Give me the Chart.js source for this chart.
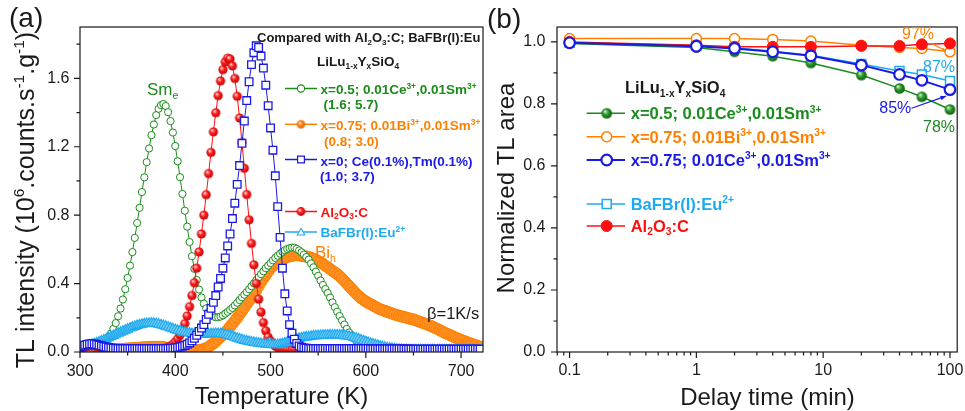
<!DOCTYPE html>
<html>
<head>
<meta charset="utf-8">
<script src="https://cdn.jsdelivr.net/npm/chart.js@4.4.0/dist/chart.umd.min.js"></script>
<style>
    html, body { margin: 0; padding: 0; background: #fff; }
    #wrap { position: relative; width: 965px; height: 411px; overflow: hidden; }
    canvas { position: absolute; top: 0; }
    #chartA { left: 0; }
    #chartB { left: 480px; }
</style>
</head>
<body>
<div id="wrap">
    <canvas id="chartA" width="500" height="411"></canvas>
    <canvas id="chartB" width="485" height="411"></canvas>
</div>
<script>
// ---------- (a) TL glow curves ----------
const tempK = [
    300, 302.5, 305, 307.5, 310, 312.5, 315, 317.5, 320, 322.5,
    325, 327.5, 330, 332.5, 335, 337.5, 340, 342.5, 345, 347.5,
    350, 352.5, 355, 357.5, 360, 362.5, 365, 367.5, 370, 372.5,
    375, 377.5, 380, 382.5, 385, 387.5, 390, 392.5, 395, 397.5,
    400, 402.5, 405, 407.5, 410, 412.5, 415, 417.5, 420, 422.5,
    425, 427.5, 430, 432.5, 435, 437.5, 440, 442.5, 445, 447.5,
    450, 452.5, 455, 457.5, 460, 462.5, 465, 467.5, 470, 472.5,
    475, 477.5, 480, 482.5, 485, 487.5, 490, 492.5, 495, 497.5,
    500, 502.5, 505, 507.5, 510, 512.5, 515, 517.5, 520, 522.5,
    525, 527.5, 530, 532.5, 535, 537.5, 540, 542.5, 545, 547.5,
    550, 552.5, 555, 557.5, 560, 562.5, 565, 567.5, 570, 572.5,
    575, 577.5, 580, 582.5, 585, 587.5, 590, 592.5, 595, 597.5,
    600, 602.5, 605, 607.5, 610, 612.5, 615, 617.5, 620, 622.5,
    625, 627.5, 630, 632.5, 635, 637.5, 640, 642.5, 645, 647.5,
    650, 652.5, 655, 657.5, 660, 662.5, 665, 667.5, 670, 672.5,
    675, 677.5, 680, 682.5, 685, 687.5, 690, 692.5, 695, 697.5,
    700, 702.5, 705, 707.5, 710, 712.5, 715, 717.5, 720
];

// x=0.5; 0.01Ce,0.01Sm
const tlGreen = [
    0.015, 0.015, 0.015, 0.016, 0.018, 0.020, 0.022, 0.025, 0.030, 0.039,
    0.050, 0.066, 0.085, 0.108, 0.136, 0.169, 0.209, 0.254, 0.307, 0.367,
    0.433, 0.505, 0.584, 0.667, 0.754, 0.843, 0.935, 1.021, 1.110, 1.190,
    1.268, 1.330, 1.385, 1.422, 1.443, 1.450, 1.438, 1.402, 1.350, 1.283,
    1.204, 1.115, 1.022, 0.924, 0.826, 0.733, 0.643, 0.560, 0.486, 0.421,
    0.365, 0.319, 0.283, 0.255, 0.234, 0.219, 0.208, 0.203, 0.203, 0.207,
    0.214, 0.224, 0.235, 0.246, 0.258, 0.272, 0.288, 0.304, 0.320, 0.335,
    0.350, 0.367, 0.385, 0.402, 0.420, 0.437, 0.455, 0.472, 0.490, 0.505,
    0.520, 0.536, 0.550, 0.563, 0.575, 0.586, 0.595, 0.602, 0.607, 0.610,
    0.610, 0.603, 0.594, 0.583, 0.570, 0.555, 0.540, 0.518, 0.495, 0.470,
    0.445, 0.418, 0.392, 0.368, 0.345, 0.318, 0.290, 0.262, 0.235, 0.210,
    0.185, 0.160, 0.135, 0.114, 0.095, 0.079, 0.065, 0.054, 0.045, 0.037,
    0.030, 0.026, 0.022, 0.020, 0.018, 0.016, 0.015, 0.013, 0.012, 0.011,
    0.010, 0.010, 0.010, 0.010, 0.010, 0.010, 0.010, 0.010, 0.010, 0.010,
    0.010, 0.010, 0.010, 0.010, 0.010, 0.010, 0.010, 0.010, 0.010, 0.010,
    0.010, 0.010, 0.010, 0.010, 0.010, 0.010, 0.010, 0.010, 0.010, 0.010,
    0.010, 0.010, 0.010, 0.010, 0.010, 0.010, 0.010, 0.010, 0.010
];

// x=0.75; 0.01Bi,0.01Sm
const tlOrange = [
    0.015, 0.015, 0.015, 0.015, 0.015, 0.015, 0.015, 0.015, 0.015, 0.015,
    0.015, 0.015, 0.015, 0.015, 0.015, 0.016, 0.017, 0.017, 0.018, 0.019,
    0.020, 0.021, 0.022, 0.023, 0.024, 0.025, 0.026, 0.027, 0.028, 0.029,
    0.030, 0.030, 0.030, 0.030, 0.030, 0.028, 0.025, 0.022, 0.020, 0.017,
    0.015, 0.013, 0.012, 0.011, 0.010, 0.010, 0.010, 0.010, 0.010, 0.010,
    0.011, 0.013, 0.017, 0.023, 0.030, 0.040, 0.050, 0.062, 0.075, 0.088,
    0.100, 0.115, 0.130, 0.148, 0.165, 0.183, 0.200, 0.220, 0.240, 0.260,
    0.280, 0.300, 0.320, 0.340, 0.360, 0.385, 0.410, 0.430, 0.450, 0.470,
    0.490, 0.503, 0.515, 0.526, 0.535, 0.543, 0.550, 0.555, 0.560, 0.563,
    0.565, 0.566, 0.565, 0.563, 0.560, 0.558, 0.555, 0.550, 0.545, 0.539,
    0.532, 0.524, 0.515, 0.505, 0.495, 0.485, 0.475, 0.465, 0.455, 0.443,
    0.430, 0.415, 0.400, 0.385, 0.370, 0.355, 0.340, 0.327, 0.315, 0.305,
    0.295, 0.287, 0.280, 0.272, 0.265, 0.257, 0.250, 0.245, 0.240, 0.235,
    0.230, 0.225, 0.220, 0.216, 0.212, 0.208, 0.205, 0.201, 0.197, 0.193,
    0.190, 0.185, 0.180, 0.175, 0.170, 0.165, 0.160, 0.154, 0.148, 0.141,
    0.135, 0.128, 0.120, 0.113, 0.107, 0.101, 0.095, 0.088, 0.082, 0.076,
    0.070, 0.065, 0.060, 0.055, 0.050, 0.045, 0.040, 0.035, 0.030
];

// x=0; Ce(0.1%),Tm(0.1%)
const tlBlue = [
    0.030, 0.035, 0.040, 0.044, 0.047, 0.048, 0.047, 0.044, 0.040, 0.036,
    0.032, 0.029, 0.026, 0.024, 0.022, 0.021, 0.020, 0.020, 0.020, 0.020,
    0.020, 0.020, 0.020, 0.020, 0.020, 0.020, 0.020, 0.020, 0.020, 0.020,
    0.020, 0.020, 0.020, 0.020, 0.020, 0.020, 0.020, 0.020, 0.021, 0.022,
    0.024, 0.026, 0.029, 0.033, 0.038, 0.045, 0.053, 0.065, 0.080, 0.098,
    0.120, 0.140, 0.160, 0.190, 0.220, 0.255, 0.290, 0.330, 0.380, 0.430,
    0.490, 0.550, 0.620, 0.690, 0.780, 0.870, 0.980, 1.090, 1.220, 1.350,
    1.470, 1.580, 1.680, 1.750, 1.790, 1.780, 1.730, 1.660, 1.560, 1.440,
    1.310, 1.180, 1.030, 0.850, 0.670, 0.490, 0.340, 0.240, 0.160, 0.110,
    0.075, 0.050, 0.035, 0.028, 0.024, 0.022, 0.020, 0.020, 0.020, 0.020,
    0.020, 0.020, 0.020, 0.020, 0.020, 0.020, 0.020, 0.020, 0.020, 0.020,
    0.020, 0.020, 0.020, 0.020, 0.020, 0.020, 0.020, 0.020, 0.020, 0.020,
    0.020, 0.019, 0.018, 0.018, 0.018, 0.018, 0.018, 0.018, 0.018, 0.018,
    0.018, 0.018, 0.018, 0.018, 0.018, 0.018, 0.017, 0.017, 0.017, 0.016,
    0.016, 0.016, 0.016, 0.016, 0.016, 0.016, 0.016, 0.016, 0.016, 0.016,
    0.016, 0.016, 0.016, 0.016, 0.016, 0.016, 0.016, 0.016, 0.016, 0.016,
    0.016, 0.016, 0.016, 0.016, 0.016, 0.016, 0.016, 0.016, 0.016
];

// Al2O3:C
const tlRed = [
    0.020, 0.025, 0.030, 0.033, 0.035, 0.036, 0.035, 0.033, 0.030, 0.025,
    0.020, 0.017, 0.015, 0.013, 0.012, 0.011, 0.010, 0.010, 0.010, 0.010,
    0.010, 0.010, 0.010, 0.010, 0.010, 0.010, 0.010, 0.010, 0.010, 0.010,
    0.011, 0.011, 0.012, 0.014, 0.016, 0.018, 0.022, 0.028, 0.035, 0.045,
    0.059, 0.077, 0.100, 0.130, 0.166, 0.211, 0.265, 0.330, 0.405, 0.490,
    0.585, 0.690, 0.800, 0.920, 1.043, 1.167, 1.287, 1.399, 1.499, 1.585,
    1.651, 1.696, 1.718, 1.713, 1.673, 1.599, 1.495, 1.368, 1.225, 1.074,
    0.921, 0.773, 0.635, 0.510, 0.401, 0.309, 0.233, 0.172, 0.124, 0.087,
    0.065, 0.048, 0.035, 0.026, 0.020, 0.017, 0.015, 0.014, 0.013, 0.013,
    0.012, 0.012, 0.012, 0.012, 0.012, 0.011, 0.011, 0.011, 0.011, 0.011,
    0.010, 0.010, 0.010, 0.010, 0.010, 0.010, 0.010, 0.010, 0.010, 0.010,
    0.010, 0.010, 0.010, 0.010, 0.010, 0.010, 0.010, 0.010, 0.010, 0.010,
    0.010, 0.010, 0.010, 0.010, 0.010, 0.010, 0.010, 0.010, 0.010, 0.010,
    0.010, 0.010, 0.010, 0.010, 0.010, 0.010, 0.010, 0.010, 0.010, 0.010,
    0.010, 0.010, 0.010, 0.010, 0.010, 0.010, 0.010, 0.010, 0.010, 0.010,
    0.010, 0.010, 0.010, 0.010, 0.010, 0.010, 0.010, 0.010, 0.010, 0.010,
    0.010, 0.010, 0.010, 0.010, 0.010, 0.010, 0.010, 0.010, 0.010
];

// BaFBr(I):Eu2+
const tlSky = [
    0.030, 0.032, 0.035, 0.037, 0.040, 0.044, 0.048, 0.053, 0.058, 0.064,
    0.070, 0.076, 0.083, 0.090, 0.096, 0.103, 0.109, 0.115, 0.121, 0.127,
    0.133, 0.139, 0.144, 0.149, 0.154, 0.158, 0.161, 0.164, 0.166, 0.167,
    0.168, 0.167, 0.165, 0.162, 0.158, 0.154, 0.150, 0.145, 0.140, 0.135,
    0.130, 0.126, 0.122, 0.118, 0.115, 0.112, 0.110, 0.107, 0.105, 0.103,
    0.102, 0.102, 0.103, 0.104, 0.105, 0.106, 0.107, 0.108, 0.108, 0.107,
    0.105, 0.102, 0.099, 0.095, 0.090, 0.085, 0.080, 0.075, 0.071, 0.067,
    0.064, 0.061, 0.058, 0.055, 0.053, 0.051, 0.049, 0.047, 0.045, 0.044,
    0.043, 0.042, 0.042, 0.043, 0.045, 0.048, 0.052, 0.057, 0.062, 0.067,
    0.071, 0.075, 0.079, 0.082, 0.085, 0.087, 0.089, 0.091, 0.093, 0.094,
    0.095, 0.096, 0.097, 0.098, 0.098, 0.099, 0.099, 0.099, 0.099, 0.098,
    0.097, 0.095, 0.093, 0.091, 0.088, 0.084, 0.080, 0.075, 0.070, 0.065,
    0.060, 0.055, 0.050, 0.046, 0.042, 0.038, 0.034, 0.030, 0.027, 0.024,
    0.022, 0.020, 0.018, 0.016, 0.015, 0.014, 0.013, 0.013, 0.012, 0.012,
    0.012, 0.012, 0.012, 0.012, 0.012, 0.012, 0.012, 0.012, 0.012, 0.012,
    0.012, 0.012, 0.012, 0.012, 0.012, 0.012, 0.012, 0.012, 0.012, 0.012,
    0.012, 0.012, 0.012, 0.012, 0.012, 0.012, 0.012, 0.012, 0.012
];

const xTicksA = [300, 400, 500, 600, 700];
const xMinorA = [350, 450, 550, 650];
const yTicksA = [0, 0.4, 0.8, 1.2, 1.6];
const yMinorA = [0.2, 0.6, 1.0, 1.4, 1.8];

// ---------- (b) fading of the TL area ----------
const delayMin = [0.1, 1, 2, 4, 8, 20, 40, 60, 100];
const fadeGreen = [0.995, 0.982, 0.968, 0.954, 0.932, 0.893, 0.850, 0.823, 0.782];
const fadeOrange = [1.011, 1.011, 1.011, 1.008, 1.003, 0.989, 0.982, 0.979, 0.968];
const fadeBlue = [0.997, 0.986, 0.979, 0.968, 0.955, 0.925, 0.895, 0.876, 0.846];
const fadeSky = [0.997, 0.988, 0.981, 0.970, 0.957, 0.929, 0.906, 0.895, 0.874];
const fadeRed = [1.000, 0.989, 0.984, 0.984, 0.984, 0.987, 0.987, 0.992, 0.995];

const xTicksB = [0.1, 1, 10, 100];
const xMinorB = [0.08, 0.09, 0.2, 0.3, 0.4, 0.5, 0.6, 0.7, 0.8, 0.9,
    2, 3, 4, 5, 6, 7, 8, 9, 20, 30, 40, 50, 60, 70, 80, 90];
const yTicksB = [0, 0.2, 0.4, 0.6, 0.8, 1.0];
const yMinorB = [0.1, 0.3, 0.5, 0.7, 0.9];

// ---------- styling ----------
const FONT = 'Arial, "Liberation Sans", Helvetica, sans-serif';
const INK = '#1a1a1a';
const GREEN = '#1b8c1b';
const ORANGE = '#ff8000';
const BLUE = '#1a1ae6';
const RED = '#ff1010';
const SKY = '#1eaaf0';

[tlGreen, tlOrange, tlBlue, tlRed, tlSky].forEach(function(arr, i) {
    if (arr.length !== tempK.length) console.error('series ' + i + ' has ' + arr.length + ' values');
});

// small shaded ball used as a point style
function makeSphere(r, light, base, dark) {
    const c = document.createElement('canvas');
    const s = Math.ceil(r * 2 + 2);
    c.width = s;
    c.height = s;
    const g = c.getContext('2d');
    const cx = s / 2, cy = s / 2;
    const grad = g.createRadialGradient(cx - r * 0.35, cy - r * 0.4, r * 0.05, cx, cy, r * 1.05);
    grad.addColorStop(0, light);
    grad.addColorStop(0.45, base);
    grad.addColorStop(1, dark);
    g.fillStyle = grad;
    g.beginPath();
    g.arc(cx, cy, r, 0, Math.PI * 2);
    g.fill();
    return c;
}

const ballRed = makeSphere(4.6, '#ffe4e4', '#ff2020', '#c00000');
const ballRedKey = makeSphere(4.4, '#ffe4e4', '#ff2020', '#c00000');
const ballOrangeKey = makeSphere(4.2, '#ffe4c0', '#ff8a10', '#d06000');
const ballGreen = makeSphere(5.3, '#d8f5d8', '#2c9c2c', '#0b5a0b');

// text with ^{sup} and _{sub} parts
function parseRich(str) {
    const parts = [];
    const re = /([\^_])\{([^}]*)\}/g;
    let last = 0, m;
    while ((m = re.exec(str))) {
        if (m.index > last) parts.push({ t: str.slice(last, m.index), k: '' });
        parts.push({ t: m[2], k: m[1] });
        last = re.lastIndex;
    }
    if (last < str.length) parts.push({ t: str.slice(last), k: '' });
    return parts;
}

function richText(ctx, str, x, y, o) {
    const size = o.size;
    const weight = o.bold ? 'bold ' : '';
    const small = size * 0.62;
    const parts = parseRich(str);
    let total = 0;
    parts.forEach(function(p) {
        ctx.font = weight + (p.k ? small : size) + 'px ' + FONT;
        p.w = ctx.measureText(p.t).width;
        total += p.w;
    });
    let cx = o.align === 'center' ? x - total / 2 : x;
    ctx.fillStyle = o.color || INK;
    ctx.textAlign = 'left';
    ctx.textBaseline = 'alphabetic';
    parts.forEach(function(p) {
        ctx.font = weight + (p.k ? small : size) + 'px ' + FONT;
        const dy = p.k === '^' ? -size * 0.4 : (p.k === '_' ? size * 0.22 : 0);
        ctx.fillText(p.t, cx, y + dy);
        cx += p.w;
    });
    return total;
}

function keyMarker(ctx, type, x, y, r, color, fill, lw) {
    ctx.save();
    if (type === 'image') {
        ctx.drawImage(r, x - r.width / 2, y - r.height / 2);
        ctx.restore();
        return;
    }
    ctx.lineWidth = lw;
    ctx.strokeStyle = color;
    ctx.fillStyle = fill;
    ctx.beginPath();
    if (type === 'circle') {
        ctx.arc(x, y, r, 0, Math.PI * 2);
    } else if (type === 'rect') {
        ctx.rect(x - r, y - r, 2 * r, 2 * r);
    } else if (type === 'triangle') {
        ctx.moveTo(x, y - r);
        ctx.lineTo(x + r * 0.9, y + r * 0.6);
        ctx.lineTo(x - r * 0.9, y + r * 0.6);
        ctx.closePath();
    }
    ctx.fill();
    ctx.stroke();
    ctx.restore();
}

function keyLine(ctx, x0, x1, y, color, lw) {
    ctx.save();
    ctx.strokeStyle = color;
    ctx.lineWidth = lw;
    ctx.beginPath();
    ctx.moveTo(x0, y);
    ctx.lineTo(x1, y);
    ctx.stroke();
    ctx.restore();
}

// box round the plot and outward ticks
function drawFrame(chart, xs, xm, ys, ym) {
    const ctx = chart.ctx, a = chart.chartArea;
    const sx = chart.scales.x, sy = chart.scales.y;
    ctx.save();
    ctx.strokeStyle = INK;
    ctx.lineWidth = 1.2;
    ctx.beginPath();
    xs.forEach(function(v) {
        const p = sx.getPixelForValue(v);
        ctx.moveTo(p, a.bottom); ctx.lineTo(p, a.bottom + 6);
    });
    xm.forEach(function(v) {
        const p = sx.getPixelForValue(v);
        ctx.moveTo(p, a.bottom); ctx.lineTo(p, a.bottom + 3.5);
    });
    ys.forEach(function(v) {
        const p = sy.getPixelForValue(v);
        ctx.moveTo(a.left, p); ctx.lineTo(a.left - 6, p);
    });
    ym.forEach(function(v) {
        const p = sy.getPixelForValue(v);
        ctx.moveTo(a.left, p); ctx.lineTo(a.left - 3.5, p);
    });
    ctx.stroke();
    ctx.strokeRect(a.left, a.top, a.right - a.left, a.bottom - a.top);
    ctx.restore();
}

function arrow(ctx, x0, y0, x1, y1, color, head) {
    const ang = Math.atan2(y1 - y0, x1 - x0);
    ctx.save();
    ctx.strokeStyle = color;
    ctx.fillStyle = color;
    ctx.lineWidth = 1.2;
    ctx.beginPath();
    ctx.moveTo(x0, y0);
    ctx.lineTo(x1, y1);
    ctx.stroke();
    if (head) {
        ctx.beginPath();
        ctx.moveTo(x1, y1);
        ctx.lineTo(x1 - head * Math.cos(ang - 0.4), y1 - head * Math.sin(ang - 0.4));
        ctx.lineTo(x1 - head * Math.cos(ang + 0.4), y1 - head * Math.sin(ang + 0.4));
        ctx.closePath();
        ctx.fill();
    }
    ctx.restore();
}

const tickFont = { family: FONT, size: 16 };

// ---------- panel (a) ----------
function curve(vals) {
    return tempK.map(function(t, i) { return { x: t, y: vals[i] }; });
}

const panelA = {
    id: 'panelA',
    afterDraw(chart) {
        const ctx = chart.ctx, a = chart.chartArea;
        drawFrame(chart, xTicksA, xMinorA, yTicksA, yMinorA);

        richText(ctx, 'Temperature (K)', (a.left + a.right) / 2, 403.5, { size: 24, align: 'center' });
        ctx.save();
        ctx.translate(33.5, 200);
        ctx.rotate(-Math.PI / 2);
        richText(ctx, 'TL intensity (10^{6}.counts.s^{-1}.g^{-1})', 0, 0, { size: 25, align: 'center' });
        ctx.restore();
        richText(ctx, '(a)', 9, 27, { size: 28 });

        // legend block
        richText(ctx, 'Compared with Al_{2}O_{3}:C; BaFBr(I):Eu', 257, 41.7, { size: 13, bold: true });
        richText(ctx, 'LiLu_{1-x}Y_{x}SiO_{4}', 317, 66, { size: 13.5, bold: true });
        const kx0 = 285, kx1 = 317, km = 301, tx = 320.5;
        keyLine(ctx, kx0, kx1, 88.5, GREEN, 1.5);
        keyMarker(ctx, 'circle', km, 88.5, 3.6, GREEN, '#fff', 1.1);
        richText(ctx, 'x=0.5; 0.01Ce^{3+},0.01Sm^{3+}', tx, 94, { size: 13.5, bold: true, color: GREEN });
        richText(ctx, '(1.6; 5.7)', 323.5, 109, { size: 13.5, bold: true, color: GREEN });

        keyLine(ctx, kx0, kx1, 124.3, ORANGE, 1.5);
        keyMarker(ctx, 'image', km, 124.3, ballOrangeKey);
        richText(ctx, 'x=0.75; 0.01Bi^{3+},0.01Sm^{3+}', tx, 130, { size: 13.5, bold: true, color: ORANGE });
        richText(ctx, '(0.8; 3.0)', 324, 145.5, { size: 13.5, bold: true, color: ORANGE });

        keyLine(ctx, kx0, kx1, 159.5, BLUE, 1.5);
        keyMarker(ctx, 'rect', km, 159.5, 3.4, BLUE, '#fff', 1.2);
        richText(ctx, 'x=0; Ce(0.1%),Tm(0.1%)', tx, 165.5, { size: 13.5, bold: true, color: BLUE });
        richText(ctx, '(1.0; 3.7)', 320, 180.5, { size: 13.5, bold: true, color: BLUE });

        keyLine(ctx, kx0, kx1, 211.5, RED, 1.5);
        keyMarker(ctx, 'image', km, 211.5, ballRedKey);
        richText(ctx, 'Al_{2}O_{3}:C', tx, 216.5, { size: 13.5, bold: true, color: RED });

        keyLine(ctx, kx0, kx1, 232, SKY, 1.5);
        keyMarker(ctx, 'triangle', km, 232.5, 4.2, SKY, '#fff', 1.1);
        richText(ctx, 'BaFBr(I):Eu^{2+}', tx, 237, { size: 13.5, bold: true, color: SKY });

        // peak labels
        richText(ctx, 'Sm_{e}', 147, 95, { size: 17, color: GREEN });
        richText(ctx, 'Bi_{h}', 315, 258, { size: 17, color: ORANGE });
        richText(ctx, '\u03b2=1K/s', 427, 319, { size: 16.5 });
    }
};

new Chart(document.getElementById('chartA'), {
    type: 'line',
    data: {
        datasets: [{
            label: 'x=0; Ce(0.1%),Tm(0.1%)',
            data: curve(tlBlue),
            borderColor: BLUE,
            borderWidth: 1,
            pointStyle: 'rect',
            pointRadius: 5.4,
            pointBorderWidth: 1.3,
            pointBorderColor: BLUE,
            pointBackgroundColor: '#fff',
            order: 0
        }, {
            label: 'BaFBr(I):Eu2+',
            data: curve(tlSky),
            borderColor: SKY,
            borderWidth: 1,
            pointStyle: 'triangle',
            pointRadius: 5.6,
            pointBorderWidth: 1.2,
            pointBorderColor: SKY,
            pointBackgroundColor: '#7ccdf5',
            order: 1
        }, {
            label: 'Al2O3:C',
            data: curve(tlRed),
            borderColor: RED,
            borderWidth: 1,
            pointStyle: ballRed,
            pointRadius: 4.6,
            order: 2
        }, {
            label: 'x=0.5; 0.01Ce3+,0.01Sm3+',
            data: curve(tlGreen),
            borderColor: GREEN,
            borderWidth: 1,
            pointStyle: 'circle',
            pointRadius: 3.6,
            pointBorderWidth: 1,
            pointBorderColor: GREEN,
            pointBackgroundColor: '#fff',
            order: 3
        }, {
            label: 'x=0.75; 0.01Bi3+,0.01Sm3+',
            data: curve(tlOrange),
            borderColor: ORANGE,
            borderWidth: 1,
            pointStyle: 'circle',
            pointRadius: 5.6,
            pointBorderWidth: 1,
            pointBorderColor: ORANGE,
            pointBackgroundColor: '#ff9025',
            order: 4
        }]
    },
    options: {
        responsive: false,
        animation: false,
        events: [],
        layout: { padding: { left: 0, right: 17, top: 27, bottom: 0 } },
        plugins: { legend: { display: false }, tooltip: { enabled: false } },
        scales: {
            x: {
                type: 'linear',
                min: 300,
                max: 723,
                grid: { display: false, drawTicks: false },
                border: { display: false },
                afterBuildTicks: function(s) { s.ticks = xTicksA.map(function(v) { return { value: v }; }); },
                afterFit: function(s) { s.height = 59; s.paddingLeft = 0; s.paddingRight = 0; },
                ticks: { padding: 9.5, font: tickFont, color: INK, maxRotation: 0, autoSkip: false,
                    callback: function(v) { return String(v); } }
            },
            y: {
                type: 'linear',
                min: 0,
                max: 1.9,
                grid: { display: false, drawTicks: false },
                border: { display: false },
                afterBuildTicks: function(s) { s.ticks = yTicksA.map(function(v) { return { value: v }; }); },
                afterFit: function(s) { s.width = 80; s.paddingTop = 0; s.paddingBottom = 0; },
                ticks: { padding: 10.5, font: tickFont, color: INK, autoSkip: false,
                    callback: function(v) { return v.toFixed(1); } }
            }
        }
    },
    plugins: [panelA]
});

// ---------- panel (b) ----------
function fade(vals) {
    return delayMin.map(function(t, i) { return { x: t, y: vals[i] }; });
}

const panelB = {
    id: 'panelB',
    afterDraw(chart) {
        const ctx = chart.ctx;
        const sx = chart.scales.x, sy = chart.scales.y;
        drawFrame(chart, xTicksB, xMinorB, yTicksB, yMinorB);

        richText(ctx, 'Delay time (min)', 287.5, 405, { size: 24, align: 'center' });
        ctx.save();
        ctx.translate(34, 188);
        ctx.rotate(-Math.PI / 2);
        richText(ctx, 'Normalized TL area', 0, 0, { size: 24, align: 'center' });
        ctx.restore();
        richText(ctx, '(b)', 7, 27.5, { size: 28 });

        // legend block
        richText(ctx, 'LiLu_{1-x}Y_{x}SiO_{4}', 145, 93.3, { size: 16.5, bold: true });
        const kx0 = 106.7, kx1 = 145, km = 126.7, tx = 150.7;
        keyLine(ctx, kx0, kx1, 113.3, GREEN, 1.5);
        keyMarker(ctx, 'image', km, 113.3, ballGreen);
        richText(ctx, 'x=0.5; 0.01Ce^{3+},0.01Sm^{3+}', tx, 119.3, { size: 16.5, bold: true, color: GREEN });

        keyLine(ctx, kx0, kx1, 136.7, ORANGE, 1.5);
        keyMarker(ctx, 'circle', km, 136.7, 5, ORANGE, '#fff', 1.5);
        richText(ctx, 'x=0.75; 0.01Bi^{3+},0.01Sm^{3+}', tx, 142.7, { size: 16.5, bold: true, color: ORANGE });

        keyLine(ctx, kx0, kx1, 160, BLUE, 2);
        keyMarker(ctx, 'circle', km, 160, 5.3, BLUE, '#fff', 2.2);
        richText(ctx, 'x=0.75; 0.01Ce^{3+},0.01Sm^{3+}', tx, 166, { size: 16.5, bold: true, color: BLUE });

        keyLine(ctx, kx0, kx1, 204, SKY, 1.5);
        keyMarker(ctx, 'rect', km, 204, 4.5, SKY, '#fff', 1.5);
        richText(ctx, 'BaFBr(I):Eu^{2+}', tx, 210, { size: 16.5, bold: true, color: SKY });

        keyLine(ctx, kx0, kx1, 226, RED, 1.5);
        keyMarker(ctx, 'circle', km, 226, 5.5, RED, RED, 1);
        richText(ctx, 'Al_{2}O_{3}:C', tx, 231.7, { size: 16.5, bold: true, color: RED });

        // fading percentages at 100 min
        const last = delayMin.length - 1;
        const px = sx.getPixelForValue(delayMin[last]);
        richText(ctx, '97%', 422, 39.3, { size: 16, color: ORANGE });
        richText(ctx, '87%', 443, 71.7, { size: 16, color: SKY });
        richText(ctx, '85%', 399.3, 113.3, { size: 16, color: BLUE });
        richText(ctx, '78%', 443, 131.7, { size: 16, color: GREEN });
        arrow(ctx, 451.5, 43.5, px - 4, sy.getPixelForValue(fadeOrange[last]) - 1, ORANGE, 4);
        arrow(ctx, 431.5, 108.3, px - 4, sy.getPixelForValue(fadeBlue[last]) + 6.5, BLUE, 6);
    }
};

new Chart(document.getElementById('chartB'), {
    type: 'line',
    data: {
        datasets: [{
            label: 'x=0.75; 0.01Ce3+,0.01Sm3+',
            data: fade(fadeBlue),
            borderColor: BLUE,
            borderWidth: 2,
            pointStyle: 'circle',
            pointRadius: 5.3,
            pointBorderWidth: 2.2,
            pointBorderColor: BLUE,
            pointBackgroundColor: '#fff',
            order: 0
        }, {
            label: 'Al2O3:C',
            data: fade(fadeRed),
            borderColor: RED,
            borderWidth: 1.5,
            pointStyle: 'circle',
            pointRadius: 5.5,
            pointBorderWidth: 1,
            pointBorderColor: RED,
            pointBackgroundColor: RED,
            order: 1
        }, {
            label: 'x=0.75; 0.01Bi3+,0.01Sm3+',
            data: fade(fadeOrange),
            borderColor: ORANGE,
            borderWidth: 1.5,
            pointStyle: 'circle',
            pointRadius: 5,
            pointBorderWidth: 1.5,
            pointBorderColor: ORANGE,
            pointBackgroundColor: '#fff',
            order: 2
        }, {
            label: 'BaFBr(I):Eu2+',
            data: fade(fadeSky),
            borderColor: SKY,
            borderWidth: 1.5,
            pointStyle: 'rect',
            pointRadius: 6.3,
            pointBorderWidth: 1.5,
            pointBorderColor: SKY,
            pointBackgroundColor: '#fff',
            order: 3
        }, {
            label: 'x=0.5; 0.01Ce3+,0.01Sm3+',
            data: fade(fadeGreen),
            borderColor: GREEN,
            borderWidth: 1.5,
            pointStyle: ballGreen,
            pointRadius: 5.3,
            order: 4
        }]
    },
    options: {
        responsive: false,
        animation: false,
        events: [],
        layout: { padding: { left: 0, right: 6, top: 27, bottom: 0 } },
        plugins: { legend: { display: false }, tooltip: { enabled: false } },
        scales: {
            x: {
                type: 'logarithmic',
                min: 0.0796,
                max: 114,
                grid: { display: false, drawTicks: false },
                border: { display: false },
                afterBuildTicks: function(s) { s.ticks = xTicksB.map(function(v) { return { value: v }; }); },
                afterFit: function(s) { s.height = 59; s.paddingLeft = 0; s.paddingRight = 0; },
                ticks: { padding: 9, font: tickFont, color: INK, maxRotation: 0, autoSkip: false,
                    callback: function(v) { return String(v); } }
            },
            y: {
                type: 'linear',
                min: 0,
                max: 1.048,
                grid: { display: false, drawTicks: false },
                border: { display: false },
                afterBuildTicks: function(s) { s.ticks = yTicksB.map(function(v) { return { value: v }; }); },
                afterFit: function(s) { s.width = 77; s.paddingTop = 0; s.paddingBottom = 0; },
                ticks: { padding: 11.5, font: tickFont, color: INK, autoSkip: false,
                    callback: function(v) { return v.toFixed(1); } }
            }
        }
    },
    plugins: [panelB]
});
</script>
</body>
</html>
